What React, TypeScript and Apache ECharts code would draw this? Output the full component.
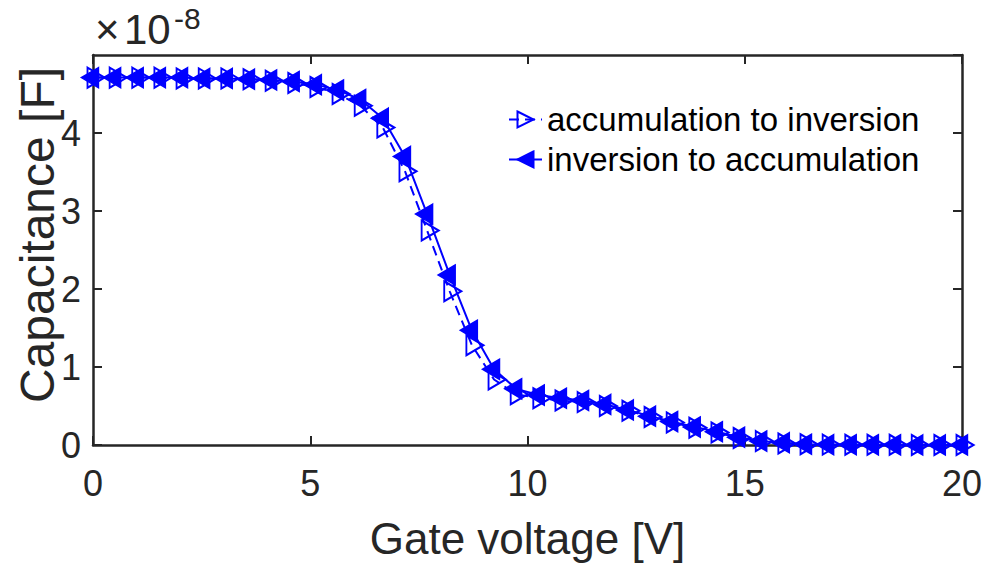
import React, { useEffect, useRef } from "react";
import * as echarts from "echarts";

// Gate voltage [V] (40 equally spaced sweep points)
const gateVoltage = [
  0, 0.51, 1.03, 1.54, 2.05, 2.56, 3.08, 3.59, 4.1, 4.62,
  5.13, 5.64, 6.15, 6.67, 7.18, 7.69, 8.21, 8.72, 9.23, 9.74,
  10.26, 10.77, 11.28, 11.79, 12.31, 12.82, 13.33, 13.85, 14.36, 14.87,
  15.38, 15.9, 16.41, 16.92, 17.44, 17.95, 18.46, 18.97, 19.49, 20,
];

// Capacitance in units of 1e-8 F
const accToInv = [
  4.71, 4.71, 4.71, 4.71, 4.7, 4.7, 4.7, 4.69, 4.67, 4.64,
  4.59, 4.5, 4.35, 4.07, 3.51, 2.75, 1.97, 1.28, 0.84, 0.65,
  0.6, 0.57, 0.55, 0.5, 0.44, 0.36, 0.29, 0.22, 0.16, 0.09,
  0.05, 0.02, 0.01, 0.005, 0.003, 0.002, 0.002, 0.001, 0.001, 0.001,
];
const invToAcc = [
  4.71, 4.71, 4.71, 4.71, 4.71, 4.7, 4.7, 4.69, 4.68, 4.66,
  4.62, 4.55, 4.43, 4.19, 3.7, 2.96, 2.18, 1.47, 0.97, 0.72,
  0.64, 0.6, 0.57, 0.52, 0.45, 0.37, 0.3, 0.23, 0.17, 0.1,
  0.05, 0.03, 0.01, 0.005, 0.003, 0.002, 0.002, 0.001, 0.001, 0.001,
];

const seriesNames = ["accumulation to inversion", "inversion to accumulation"];
const xLabel = "Gate voltage [V]";
const yLabel = "Capacitance [F]";
const expTimes = "\u00d7";
const expBase = "10";
const expPower = "-8";

const FONT = "'Liberation Sans', Arial, Helvetica, sans-serif";
const AXIS = "#262626";
const BLUE = "#0000ff";
const RIGHT_TRI = "path://M0,0L10,5L0,10Z";
const LEFT_TRI = "path://M10,0L0,5L10,10Z";

export default function App() {
  const ref = useRef<HTMLDivElement>(null);
  useEffect(() => {
    if (!ref.current) return;
    const chart = echarts.init(ref.current, undefined, { renderer: "svg" });
    const axisLine = { show: true, onZero: false, lineStyle: { color: AXIS, width: 2.5 } };
    const axisTick = { show: true, inside: true, length: 9, lineStyle: { color: AXIS, width: 2 } };
    const d1 = gateVoltage.map((x, i) => [x, accToInv[i]]);
    const d2 = gateVoltage.map((x, i) => [x, invToAcc[i]]);
    chart.setOption({
      animation: false,
      backgroundColor: "#ffffff",
      grid: { left: 93, right: 32, top: 55, bottom: 117 },
      xAxis: [
        {
          type: "value", min: 0, max: 20, interval: 5, position: "bottom",
          axisLine, axisTick, splitLine: { show: false },
          axisLabel: { fontSize: 36, color: AXIS, fontFamily: FONT, margin: 20 },
          name: xLabel, nameLocation: "middle", nameGap: 71,
          nameTextStyle: { fontSize: 44, color: AXIS, fontFamily: FONT },
        },
        {
          type: "value", min: 0, max: 20, interval: 5, position: "top",
          axisLine, axisTick, splitLine: { show: false }, axisLabel: { show: false },
        },
      ],
      yAxis: [
        {
          type: "value", min: 0, max: 5, interval: 1, position: "left",
          axisLine, axisTick, splitLine: { show: false },
          axisLabel: { fontSize: 36, color: AXIS, fontFamily: FONT, margin: 12, showMaxLabel: false },
        },
        {
          type: "value", min: 0, max: 5, interval: 1, position: "right",
          axisLine, axisTick, splitLine: { show: false }, axisLabel: { show: false },
        },
      ],
      legend: {
        orient: "vertical", left: 508, top: 103, padding: 0,
        itemWidth: 33, itemHeight: 20, itemGap: 7,
        textStyle: { fontSize: 33, lineHeight: 33, color: "#000000", fontFamily: FONT },
        data: seriesNames,
      },
      graphic: [
        {
          type: "text", x: 37, y: 235, rotation: Math.PI / 2,
          style: { text: yLabel, font: `48px ${FONT}`, fill: AXIS, align: "center", verticalAlign: "middle" },
        },
        { type: "text", left: 95, top: 8, style: { text: expTimes, font: `42px ${FONT}`, fill: AXIS } },
        { type: "text", left: 124, top: 8, style: { text: expBase, font: `42px ${FONT}`, fill: AXIS } },
        { type: "text", left: 174, top: 3, style: { text: expPower, font: `30px ${FONT}`, fill: AXIS } },
      ],
      series: [
        {
          name: seriesNames[0], type: "line", data: d1, showSymbol: true,
          symbol: RIGHT_TRI, symbolSize: [17, 20], symbolOffset: [3, 0],
          itemStyle: { color: "rgba(0,0,0,0)", borderColor: BLUE, borderWidth: 2 },
          lineStyle: { color: BLUE, width: 2, type: [10, 6] },
          z: 2,
        },
        {
          name: seriesNames[1], type: "line", data: d2, showSymbol: true,
          symbol: LEFT_TRI, symbolSize: [17, 20], symbolOffset: [-3, 0],
          itemStyle: { color: BLUE, borderColor: BLUE, borderWidth: 1.5 },
          lineStyle: { color: BLUE, width: 2 },
          z: 3,
        },
      ],
    });
    return () => chart.dispose();
  }, []);
  return (
    <div
      ref={ref}
      style={{ position: "absolute", left: 0, top: 0, width: 994, height: 565 }}
    />
  );
}
